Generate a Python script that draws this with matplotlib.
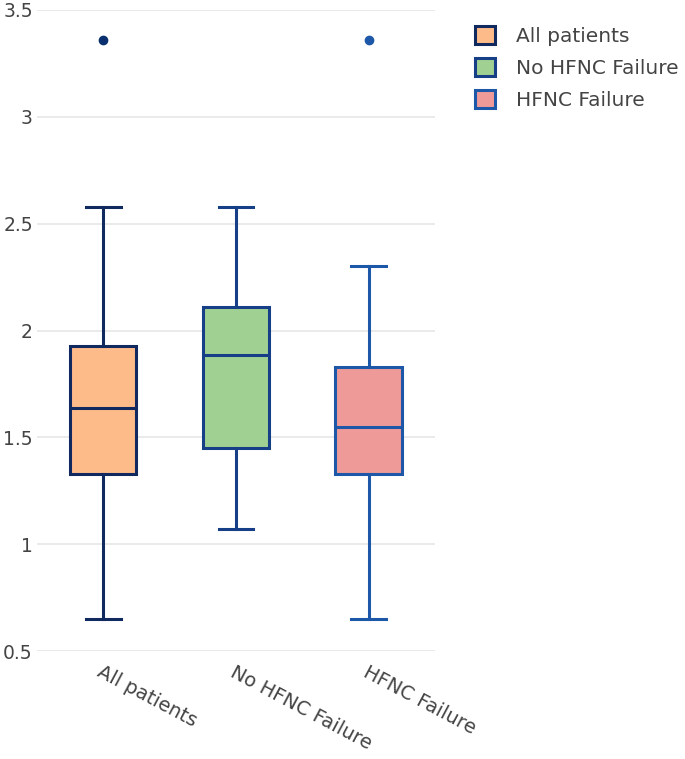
import matplotlib
matplotlib.use("Agg")
import matplotlib.pyplot as plt
from matplotlib.patches import Patch

plt.rcParams['font.family'] = ['DejaVu Sans']

categories = ["All patients", "No HFNC Failure", "HFNC Failure"]
whislo = [0.65, 1.07, 0.65]
q1 = [1.33, 1.45, 1.33]
med = [1.64, 1.885, 1.55]
q3 = [1.93, 2.11, 1.83]
whishi = [2.58, 2.58, 2.30]
fliers = [[3.36], [], [3.36]]
yticks = [0.5, 1, 1.5, 2, 2.5, 3, 3.5]
ytick_labels = ["0.5", "1", "1.5", "2", "2.5", "3", "3.5"]

fills = ["#FDBB8A", "#A0D092", "#EE9A98"]
edges = ["#10295E", "#173F88", "#1D58A8"]

fig = plt.figure(figsize=(6.85, 7.59), dpi=100)
ax = fig.add_axes([0.054, 0.142, 0.581, 0.845])

stats = []
for i, c in enumerate(categories):
    stats.append(dict(label=c, whislo=whislo[i], q1=q1[i], med=med[i],
                      q3=q3[i], whishi=whishi[i], fliers=fliers[i]))

positions = list(range(len(categories)))
for i, s in enumerate(stats):
    ax.bxp([s], positions=[positions[i]], widths=0.5, capwidths=0.26,
           patch_artist=True, showfliers=True,
           boxprops=dict(facecolor=fills[i], edgecolor=edges[i], linewidth=2.2),
           medianprops=dict(color=edges[i], linewidth=2.2),
           whiskerprops=dict(color=edges[i], linewidth=2.2),
           capprops=dict(color=edges[i], linewidth=2.2),
           flierprops=dict(marker='o', markerfacecolor=edges[i] if i else "#0A2F6E",
                           markeredgecolor='none', markersize=7))

ax.set_xlim(-0.5, 2.5)
ax.set_ylim(0.5, 3.5)
ax.set_yticks(yticks)
ax.set_yticklabels(ytick_labels)
ax.set_xticks(positions)
ax.set_xticklabels(categories, rotation=-28, ha='left', va='top',
                   rotation_mode='anchor', fontsize=14)
for spine in ax.spines.values():
    spine.set_visible(False)
ax.tick_params(axis='both', length=0, colors='#444444')
ax.tick_params(axis='y', labelsize=13.5, pad=3)
ax.tick_params(axis='x', pad=8)
ax.yaxis.grid(True, color='#E6E6E6', linewidth=1.2)
ax.set_axisbelow(True)

handles = [Patch(facecolor=fills[i], edgecolor=edges[i], linewidth=2.2, label=categories[i])
           for i in range(len(categories))]
fig.legend(handles=handles, loc='upper left', bbox_to_anchor=(0.667, 0.99),
           frameon=False, fontsize=14.5, labelcolor='#444444',
           handlelength=1.0, handleheight=1.0, handletextpad=1.05, labelspacing=0.6)

fig.savefig("out.png", dpi=100, facecolor='white')
